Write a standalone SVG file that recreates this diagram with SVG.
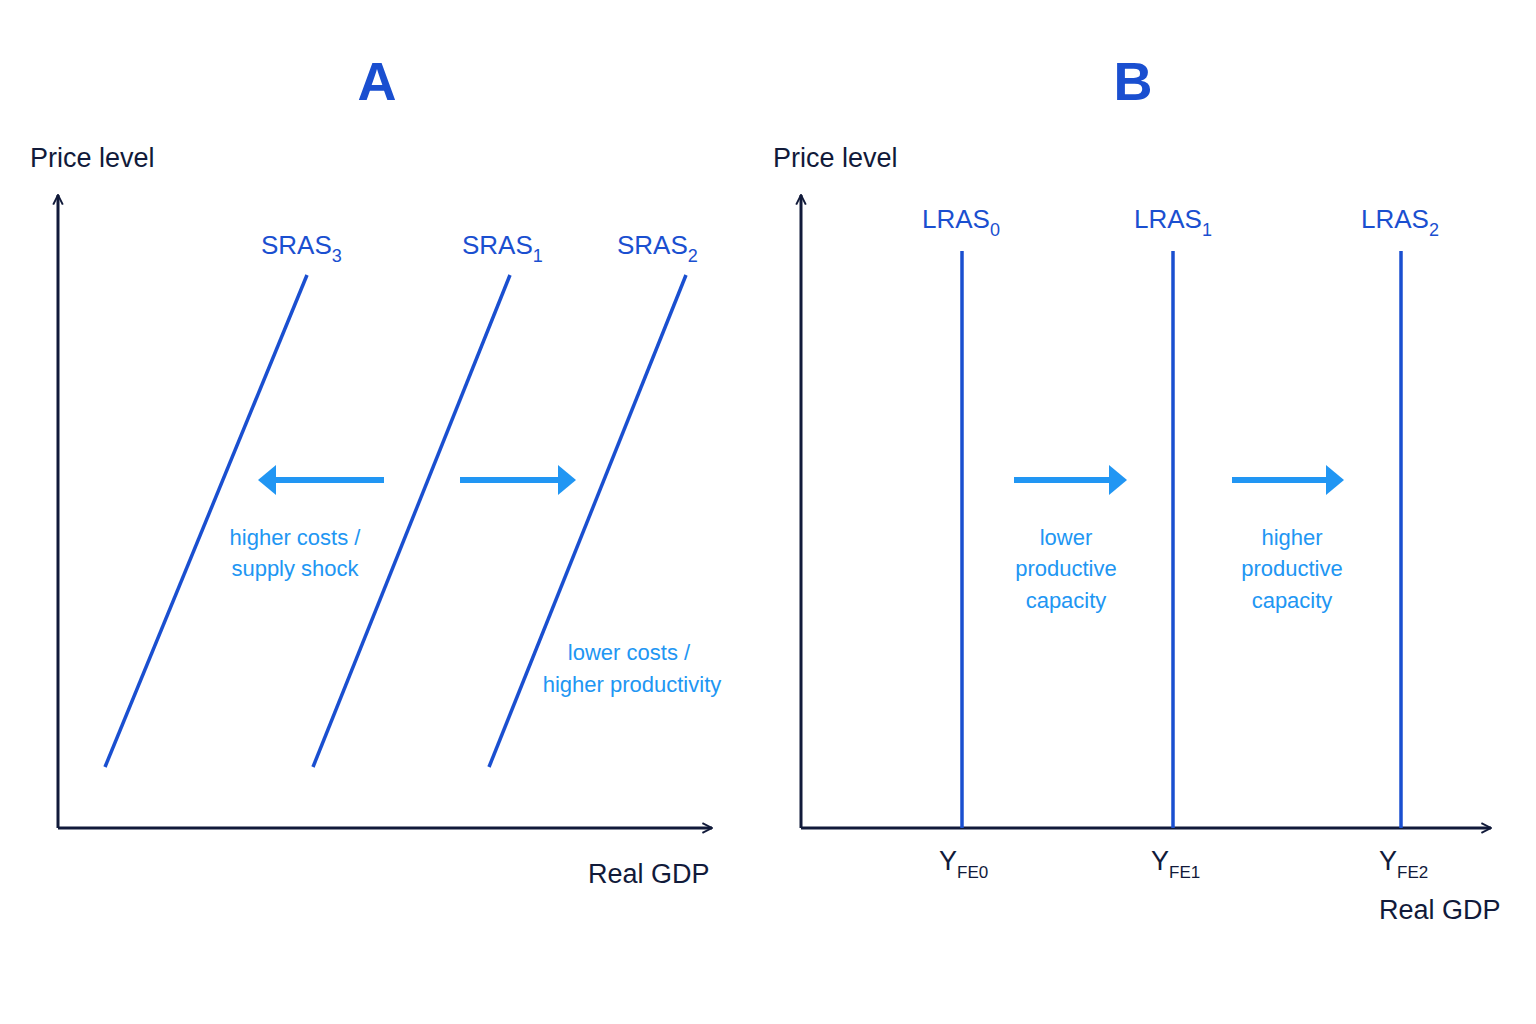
<svg xmlns="http://www.w3.org/2000/svg" width="1536" height="1024" viewBox="0 0 1536 1024">
<defs>
<style>
.ax{stroke:#111a3a;stroke-width:3;fill:none}
.cv{stroke:#1a4fd0;stroke-width:3.5;fill:none}
.sh{stroke:#2196f3;stroke-width:6;fill:none}
.t{font-family:"Liberation Sans",Arial,sans-serif}
.dk{fill:#111a3a;font-size:27px}
.lb{fill:#1a4fd0;font-size:26px}
.nt{fill:#2196f3;font-size:22px;text-anchor:middle}
.ti{fill:#1a4fd0;font-size:54px;font-weight:bold;text-anchor:middle}
</style>
<marker id="ah" viewBox="0 0 10 10" refX="9" refY="5" markerWidth="12" markerHeight="12" markerUnits="userSpaceOnUse" orient="auto"><path d="M1,1 L9,5 L1,9" fill="none" stroke="#111a3a" stroke-width="1.6"/></marker>
<path id="tri" d="M0,-15 L18,0 L0,15 Z" fill="#2196f3"/>
</defs>
<rect width="1536" height="1024" fill="#fff"/>
<text class="t ti" x="377" y="100">A</text>
<text class="t ti" x="1133" y="100">B</text>
<g id="axes">
<path class="ax" d="M58,828 V195" marker-end="url(#ah)"/>
<path class="ax" d="M58,828 H712" marker-end="url(#ah)"/>
<path class="ax" d="M801,828 V195" marker-end="url(#ah)"/>
<path class="ax" d="M801,828 H1491" marker-end="url(#ah)"/>
</g>
<text class="t dk" x="30" y="167">Price level</text>
<text class="t dk" x="588" y="883">Real GDP</text>
<text class="t dk" x="773" y="167">Price level</text>
<text class="t dk" x="1379" y="919">Real GDP</text>
<g id="sras3"><line class="cv" x1="105" y1="767" x2="307" y2="275"/><text class="t lb" x="261" y="254">SRAS<tspan font-size="18" dy="8">3</tspan></text></g>
<g id="sras1"><line class="cv" x1="313" y1="767" x2="510" y2="275"/><text class="t lb" x="462" y="254">SRAS<tspan font-size="18" dy="8">1</tspan></text></g>
<g id="sras2"><line class="cv" x1="489" y1="767" x2="686" y2="275"/><text class="t lb" x="617" y="254">SRAS<tspan font-size="18" dy="8">2</tspan></text></g>
<g id="lras0"><line class="cv" x1="962" y1="251" x2="962" y2="828"/><text class="t lb" x="922" y="228">LRAS<tspan font-size="18" dy="8">0</tspan></text><text class="t dk" x="939" y="870">Y<tspan font-size="17" dy="8">FE0</tspan></text></g>
<g id="lras1"><line class="cv" x1="1173" y1="251" x2="1173" y2="828"/><text class="t lb" x="1134" y="228">LRAS<tspan font-size="18" dy="8">1</tspan></text><text class="t dk" x="1151" y="870">Y<tspan font-size="17" dy="8">FE1</tspan></text></g>
<g id="lras2"><line class="cv" x1="1401" y1="251" x2="1401" y2="828"/><text class="t lb" x="1361" y="228">LRAS<tspan font-size="18" dy="8">2</tspan></text><text class="t dk" x="1379" y="870">Y<tspan font-size="17" dy="8">FE2</tspan></text></g>
<g id="shifts">
<line class="sh" x1="384" y1="480" x2="270" y2="480"/><use href="#tri" transform="translate(276,480) rotate(180)"/>
<line class="sh" x1="460" y1="480" x2="562" y2="480"/><use href="#tri" transform="translate(558,480)"/>
<line class="sh" x1="1014" y1="480" x2="1114" y2="480"/><use href="#tri" transform="translate(1109,480)"/>
<line class="sh" x1="1232" y1="480" x2="1331" y2="480"/><use href="#tri" transform="translate(1326,480)"/>
</g>
<text class="t nt" x="295" y="545">higher costs /</text>
<text class="t nt" x="295" y="576">supply shock</text>
<text class="t nt" x="629" y="660">lower costs /</text>
<text class="t nt" x="632" y="692">higher productivity</text>
<text class="t nt" x="1066" y="545">lower</text>
<text class="t nt" x="1066" y="576">productive</text>
<text class="t nt" x="1066" y="608">capacity</text>
<text class="t nt" x="1292" y="545">higher</text>
<text class="t nt" x="1292" y="576">productive</text>
<text class="t nt" x="1292" y="608">capacity</text>
</svg>
